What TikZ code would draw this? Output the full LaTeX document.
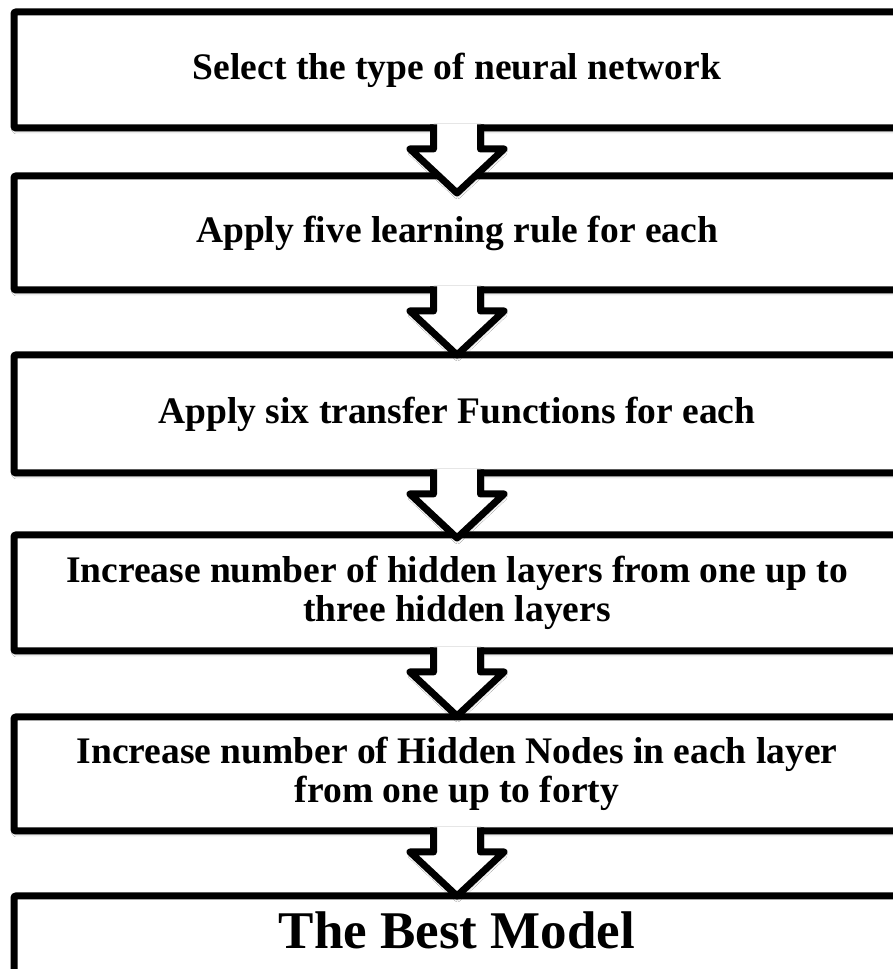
\documentclass[tikz,border=0pt]{standalone}
\usepackage{fontspec}
\setmainfont{Liberation Serif}
\usetikzlibrary{calc,shadows.blur}

\tikzset{
  softshadow/.style={blur shadow={shadow xshift=0.5pt, shadow yshift=-3pt,
      shadow blur radius=3pt, shadow opacity=35}},
  stepbox/.style={draw=black, line width=7pt, fill=white, rectangle,
    rounded corners=2pt, inner sep=0pt, outer sep=0pt,
    minimum width=886pt, align=center,
    font=\fontsize{37.5}{39}\selectfont\bfseries, softshadow},
  bigtext/.style={inner sep=0pt, font=\fontsize{53}{55}\selectfont\bfseries},
  arrowfill/.style={fill=white, draw=none, softshadow},
  arrowline/.style={draw=black, line width=7pt, line join=round}
}

% block arrow leading from box #1 down towards box #2
\newcommand{\flowarrow}[2]{%
  \coordinate (tip) at ($(#1.south)!65pt!(#2.north)$);
  \fill[arrowfill]
    ($(#1.south)+(-23.5,4)$) -- ($(#1.south)+(-23.5,-21)$) --
    ($(#1.south)+(-47,-21)$) -- (tip) --
    ($(#1.south)+(47,-21)$) -- ($(#1.south)+(23.5,-21)$) --
    ($(#1.south)+(23.5,4)$) -- cycle;
  \draw[arrowline]
    ($(#1.south)+(-23.5,3.5)$) -- ($(#1.south)+(-23.5,-21)$) --
    ($(#1.south)+(-47,-21)$) -- (tip) --
    ($(#1.south)+(47,-21)$) -- ($(#1.south)+(23.5,-21)$) --
    ($(#1.south)+(23.5,3.5)$);
}

\begin{document}
\begin{tikzpicture}[x=1pt,y=1pt]
  \useasboundingbox (0,0) rectangle (892,969);
  \fill[white] (0,0) rectangle (892,969);

  \node[stepbox, minimum height=116pt] (b1) at (457,899)
    {Select the type of neural network};
  \node[stepbox, minimum height=114pt] (b2) at (457,736)
    {Apply five learning rule for each};
  \node[stepbox, minimum height=118pt] (b3) at (457,555)
    {Apply six transfer Functions for each};
  \node[stepbox, minimum height=116pt] (b4) at (457,376)
    {Increase number of hidden layers from one up to\\three hidden layers};
  \node[stepbox, minimum height=114pt] (b5) at (457,195)
    {Increase number of Hidden Nodes in each layer\\from one up to forty};
  \node[stepbox, minimum height=116pt] (b6) at (457,15) {};
  \node[bigtext] (t6) at ($(b6.north)+(0,-34)$) {The Best Model};

  \flowarrow{b1}{b2}
  \flowarrow{b2}{b3}
  \flowarrow{b3}{b4}
  \flowarrow{b4}{b5}
  \flowarrow{b5}{b6}
\end{tikzpicture}
\end{document}
